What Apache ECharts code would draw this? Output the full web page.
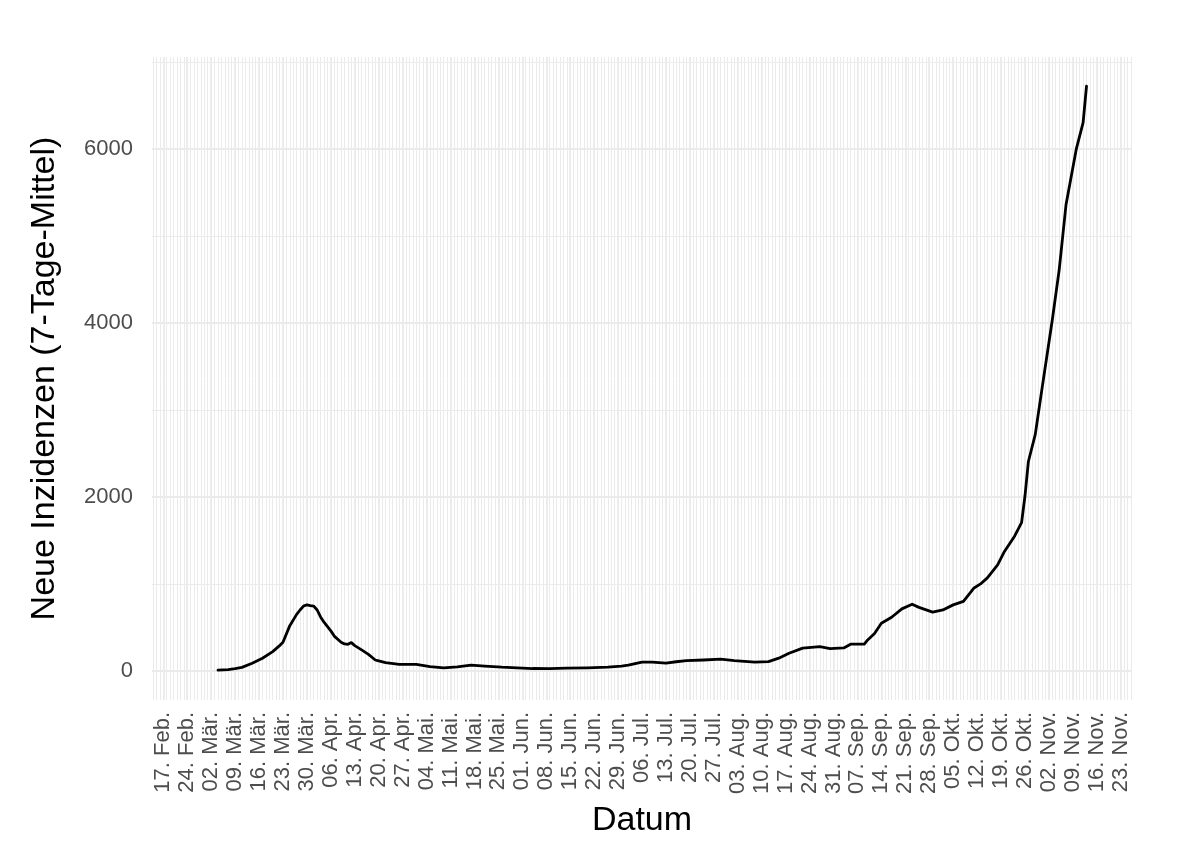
<!DOCTYPE html>
<html>
<head>
<meta charset="utf-8">
<script src="https://cdn.jsdelivr.net/npm/echarts@6/dist/echarts.min.js"></script>
<style>
  html, body { margin: 0; padding: 0; background: #ffffff; }
  #chart { width: 1200px; height: 865px; }
</style>
</head>
<body>
<div id="chart"></div>
<script>
// ---- Data ----
const dates = [
  '2020-03-04','2020-03-07','2020-03-09','2020-03-11','2020-03-14','2020-03-17','2020-03-20','2020-03-22',
  '2020-03-23','2020-03-25','2020-03-27','2020-03-28','2020-03-29','2020-03-30','2020-03-31','2020-04-01',
  '2020-04-02','2020-04-03','2020-04-04','2020-04-06','2020-04-07','2020-04-09','2020-04-10','2020-04-11',
  '2020-04-12','2020-04-13','2020-04-15','2020-04-17','2020-04-19','2020-04-20','2020-04-22','2020-04-26',
  '2020-05-01','2020-05-05','2020-05-09','2020-05-13','2020-05-17','2020-05-21','2020-05-26','2020-06-04',
  '2020-06-09','2020-06-14','2020-06-20','2020-06-26','2020-06-30','2020-07-02','2020-07-06','2020-07-09',
  '2020-07-13','2020-07-16','2020-07-19','2020-07-24','2020-07-29','2020-08-02','2020-08-05','2020-08-08',
  '2020-08-12','2020-08-15','2020-08-18','2020-08-22','2020-08-27','2020-08-30','2020-09-03','2020-09-05',
  '2020-09-09','2020-09-10','2020-09-12','2020-09-14','2020-09-17','2020-09-20','2020-09-23','2020-09-25',
  '2020-09-29','2020-10-02','2020-10-05','2020-10-08','2020-10-11','2020-10-13','2020-10-15','2020-10-18',
  '2020-10-20','2020-10-23','2020-10-25','2020-10-26','2020-10-27','2020-10-29','2020-10-31','2020-11-03',
  '2020-11-05','2020-11-07','2020-11-10','2020-11-12','2020-11-13'
];
const values = [
  8, 15, 25, 40, 88, 145, 222, 290,
  330, 520, 650, 700, 745, 760, 750, 745,
  700, 620, 560, 460, 400, 330, 310, 305,
  325, 290, 241, 190, 125, 115, 95, 75,
  75, 50, 35, 45, 65, 55, 42, 27,
  25, 31, 35, 42, 55, 65, 100, 100,
  88, 105, 118, 125, 134, 118, 110, 100,
  107, 146, 203, 261, 279, 256, 264, 307,
  307, 356, 430, 548, 617, 713, 766, 730,
  675, 701, 759, 800, 950, 1000, 1070, 1218,
  1373, 1552, 1704, 2011, 2408, 2717, 3250, 4038,
  4610, 5360, 6000, 6306, 6724
];
const yMajorTicks = [0, 2000, 4000, 6000];
const yMinorTicks = [1000, 3000, 5000, 7000];
const monthNames = ['Jan.','Feb.','Mär.','Apr.','Mai.','Jun.','Jul.','Aug.','Sep.','Okt.','Nov.','Dez.'];
const firstTick = [2020, 1, 17];   // 17. Feb. 2020
const weekTickCount = 41;          // 17. Feb. ... 23. Nov.

// ---- Derived ----
const DAY = 864e5;
function toTime(s) {
  const p = s.split('-').map(Number);
  return new Date(p[0], p[1] - 1, p[2]).getTime();
}
const weekTicks = [];
for (let i = 0; i < weekTickCount; i++) {
  weekTicks.push(new Date(firstTick[0], firstTick[1], firstTick[2] + 7 * i).getTime());
}
const xMin = weekTicks[0] - 3.3 * DAY;
const xMax = weekTicks[weekTicks.length - 1] + 3.3 * DAY;
const dayTicks = [];
for (let i = -3; i <= 283; i++) {
  dayTicks.push(new Date(firstTick[0], firstTick[1], firstTick[2] + i).getTime());
}
const seriesData = dates.map((d, i) => [toTime(d), values[i]]);

const GRID = '#EBEBEB';
const gridLines = [];
dayTicks.forEach(t => gridLines.push({ xAxis: t, lineStyle: { color: GRID, width: 1.0, type: 'solid' } }));
weekTicks.forEach(t => gridLines.push({ xAxis: t, lineStyle: { color: GRID, width: 1.8, type: 'solid' } }));
yMinorTicks.forEach(v => gridLines.push({ yAxis: v, lineStyle: { color: GRID, width: 1.2, type: 'solid' } }));
yMajorTicks.forEach(v => gridLines.push({ yAxis: v, lineStyle: { color: GRID, width: 2.2, type: 'solid' } }));

const FONT = "'Liberation Sans', Arial, Helvetica, sans-serif";

const chart = echarts.init(document.getElementById('chart'), null, { renderer: 'canvas' });
chart.setOption({
  animation: false,
  backgroundColor: '#ffffff',
  textStyle: { fontFamily: FONT },
  grid: { left: 152, right: 68, top: 57, bottom: 165 },
  xAxis: {
    type: 'value',
    min: xMin,
    max: xMax,
    scale: true,
    name: 'Datum',
    nameLocation: 'middle',
    nameGap: 104,
    nameTextStyle: { fontSize: 34, color: '#000000', fontFamily: FONT },
    axisLine: { show: false },
    axisTick: { show: false, customValues: weekTicks },
    splitLine: { show: false },
    axisLabel: {
      customValues: weekTicks,
      rotate: 90,
      margin: 12,
      fontSize: 22,
      color: '#4D4D4D',
      fontFamily: FONT,
      hideOverlap: false,
      formatter: function (v) {
        const d = new Date(v);
        const dd = String(d.getDate()).padStart(2, '0');
        return dd + '. ' + monthNames[d.getMonth()];
      }
    }
  },
  yAxis: {
    type: 'value',
    min: -335,
    max: 7060,
    name: 'Neue Inzidenzen (7-Tage-Mittel)',
    nameLocation: 'middle',
    nameGap: 90,
    nameRotate: 90,
    nameTextStyle: { fontSize: 34, color: '#000000', fontFamily: FONT },
    axisLine: { show: false },
    axisTick: { show: false, customValues: yMajorTicks },
    splitLine: { show: false },
    axisLabel: {
      customValues: yMajorTicks,
      margin: 19,
      fontSize: 22,
      color: '#4D4D4D',
      fontFamily: FONT,
      formatter: function (v) { return String(v); }
    }
  },
  series: [
    {
      type: 'line',
      data: [],
      z: 1,
      silent: true,
      markLine: {
        silent: true,
        symbol: ['none', 'none'],
        label: { show: false },
        emphasis: { disabled: true },
        animation: false,
        data: gridLines
      }
    },
    {
      type: 'line',
      data: seriesData,
      z: 10,
      showSymbol: false,
      symbol: 'none',
      lineStyle: { color: '#000000', width: 2.8, join: 'round', cap: 'round' },
      itemStyle: { color: '#000000' },
      emphasis: { disabled: true }
    }
  ]
});
</script>
</body>
</html>
